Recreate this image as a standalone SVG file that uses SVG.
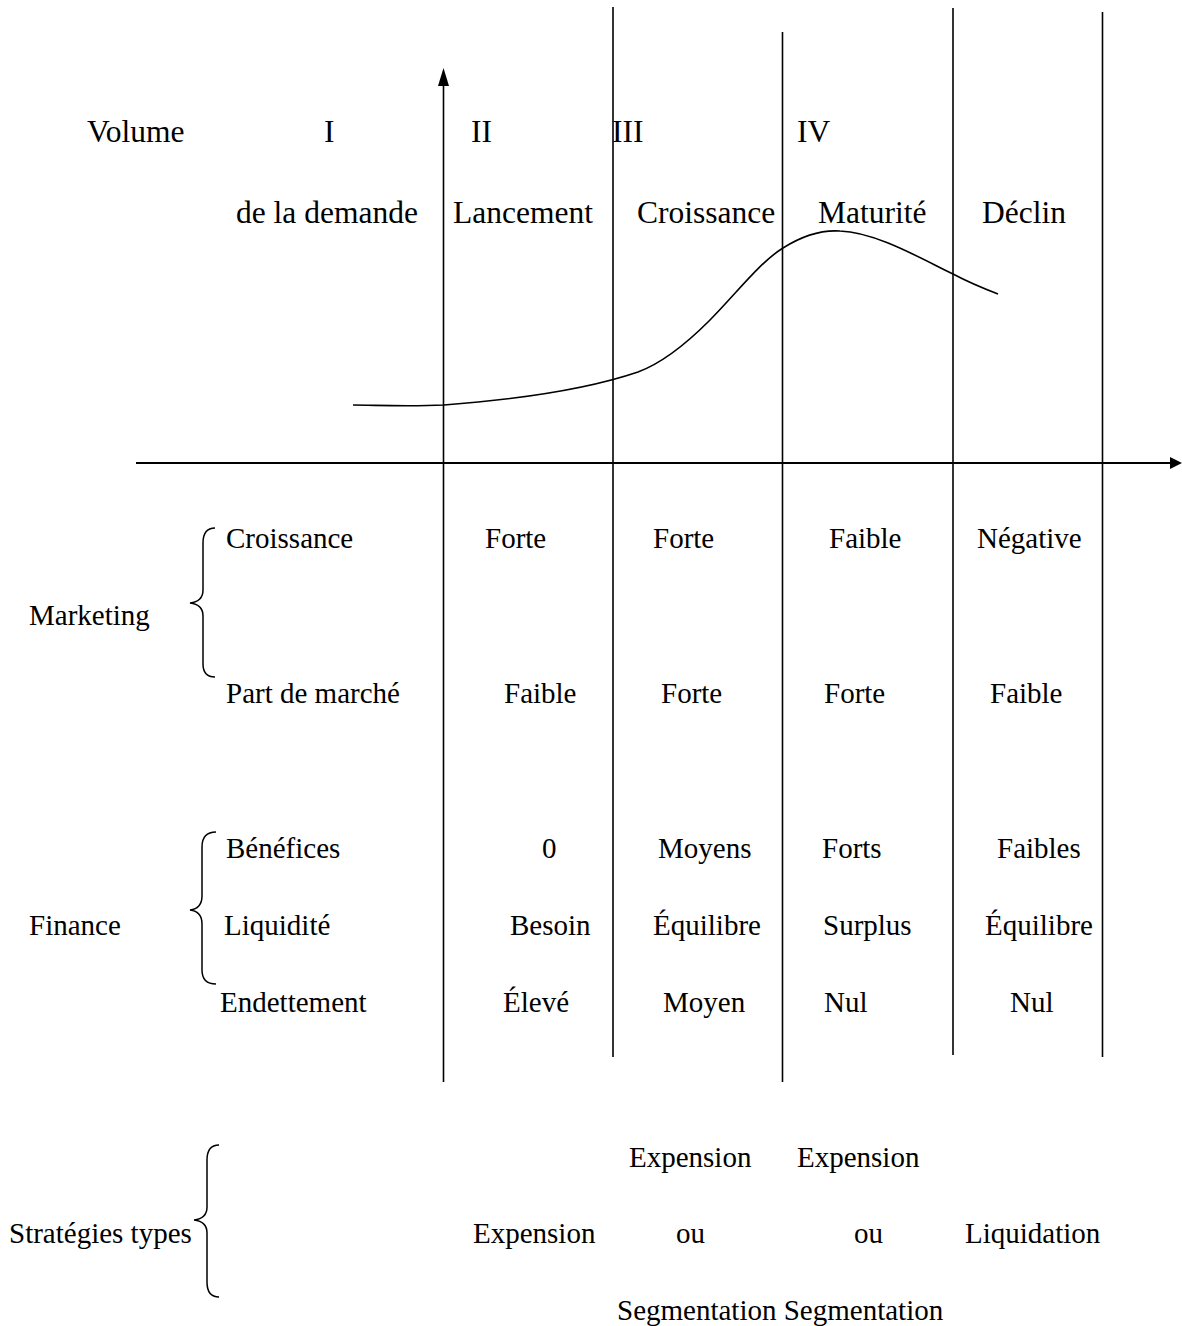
<svg xmlns="http://www.w3.org/2000/svg" width="1182" height="1326" viewBox="0 0 1182 1326">
  <style>
    text { font-family: "Liberation Serif", "Times New Roman", serif; fill: #000; }
    .hd { font-size: 31.5px; }
    .tx { font-size: 29px; }
    .ln { stroke: #000; stroke-width: 1.6; fill: none; }
    .ax { stroke: #000; stroke-width: 2; fill: none; }
    .br { stroke: #000; stroke-width: 1.5; fill: none; }
  </style>
  <defs>
    <marker id="arrow" viewBox="0 0 10 10" refX="9" refY="5" markerWidth="6" markerHeight="6" markerUnits="userSpaceOnUse" orient="auto">
      <path d="M0,0 L10,5 L0,10 Z" fill="#000"/>
    </marker>
  </defs>

  <rect width="1182" height="1326" fill="#fff"/>

  <!-- axes, phase separators and the demand curve -->
  <g id="connectors">
    <line class="ax" x1="136" y1="463" x2="1170" y2="463"/>
    <path d="M1170,457 L1182,463 L1170,469 Z" fill="#000"/>
    <line class="ln" x1="443.5" y1="1082" x2="443.5" y2="84"/>
    <path d="M438,86 L443.5,68 L449,86 Z" fill="#000"/>
    <line class="ln" x1="613" y1="7" x2="613" y2="1057"/>
    <line class="ln" x1="782.5" y1="32" x2="782.5" y2="1082"/>
    <line class="ln" x1="953" y1="8" x2="953" y2="1055"/>
    <line class="ln" x1="1102.5" y1="12" x2="1102.5" y2="1057"/>
    <path class="ln" d="M353,405 C375,405 405,407 444,405 C510,400 585,390 638,372 C665,362 690,340 709,321 C735,295 760,262 783,248 C805,234 825,230 840,231 C875,232 920,258 953,274 C970,283 985,289 998,294"/>
  </g>

  <!-- header: axis label and phases -->
  <g id="header">
    <text class="hd" x="87" y="142">Volume</text>
    <text class="hd" x="324" y="142">I</text>
    <text class="hd" x="471" y="142">II</text>
    <text class="hd" x="612" y="142">III</text>
    <text class="hd" x="797" y="142">IV</text>
    <text class="hd" x="236" y="223">de la demande</text>
    <text class="hd" x="453" y="223">Lancement</text>
    <text class="hd" x="637" y="223">Croissance</text>
    <text class="hd" x="818" y="223">Maturité</text>
    <text class="hd" x="982" y="223">Déclin</text>
  </g>

  <!-- marketing block -->
  <g id="marketing">
    <path class="br" d="M215,528 C207,528 203,533 203,543 L203,590 C203,598 199,602 190,603 C199,604 203,608 203,616 L203,664 C203,673 207,677 215,677"/>
    <text class="tx" x="29" y="625">Marketing</text>
    <text class="tx" x="226" y="548">Croissance</text>
    <text class="tx" x="485" y="548">Forte</text>
    <text class="tx" x="653" y="548">Forte</text>
    <text class="tx" x="829" y="548">Faible</text>
    <text class="tx" x="977" y="548">Négative</text>
    <text class="tx" x="226" y="703">Part de marché</text>
    <text class="tx" x="504" y="703">Faible</text>
    <text class="tx" x="661" y="703">Forte</text>
    <text class="tx" x="824" y="703">Forte</text>
    <text class="tx" x="990" y="703">Faible</text>
  </g>

  <!-- finance block -->
  <g id="finance">
    <path class="br" d="M216,832 C207,832 202,837 202,847 L202,896 C202,904 198,909 190,910 C198,911 202,916 202,924 L202,970 C202,980 207,984 216,984"/>
    <text class="tx" x="29" y="935">Finance</text>
    <text class="tx" x="226" y="858">Bénéfices</text>
    <text class="tx" x="542" y="858">0</text>
    <text class="tx" x="658" y="858">Moyens</text>
    <text class="tx" x="822" y="858">Forts</text>
    <text class="tx" x="997" y="858">Faibles</text>
    <text class="tx" x="224" y="935">Liquidité</text>
    <text class="tx" x="510" y="935">Besoin</text>
    <text class="tx" x="653" y="935">Équilibre</text>
    <text class="tx" x="823" y="935">Surplus</text>
    <text class="tx" x="985" y="935">Équilibre</text>
    <text class="tx" x="220" y="1012">Endettement</text>
    <text class="tx" x="503" y="1012">Élevé</text>
    <text class="tx" x="663" y="1012">Moyen</text>
    <text class="tx" x="824" y="1012">Nul</text>
    <text class="tx" x="1010" y="1012">Nul</text>
  </g>

  <!-- typical strategies block -->
  <g id="strategies">
    <path class="br" d="M219,1145 C211,1145 207,1150 207,1160 L207,1207 C207,1215 203,1219 194,1220 C203,1221 207,1225 207,1233 L207,1282 C207,1292 211,1297 219,1297"/>
    <text class="tx" x="9" y="1243">Stratégies types</text>
    <text class="tx" x="629" y="1167">Expension</text>
    <text class="tx" x="797" y="1167">Expension</text>
    <text class="tx" x="473" y="1243">Expension</text>
    <text class="tx" x="676" y="1243">ou</text>
    <text class="tx" x="854" y="1243">ou</text>
    <text class="tx" x="965" y="1243">Liquidation</text>
    <text class="tx" x="617" y="1320">Segmentation Segmentation</text>
  </g>
</svg>
